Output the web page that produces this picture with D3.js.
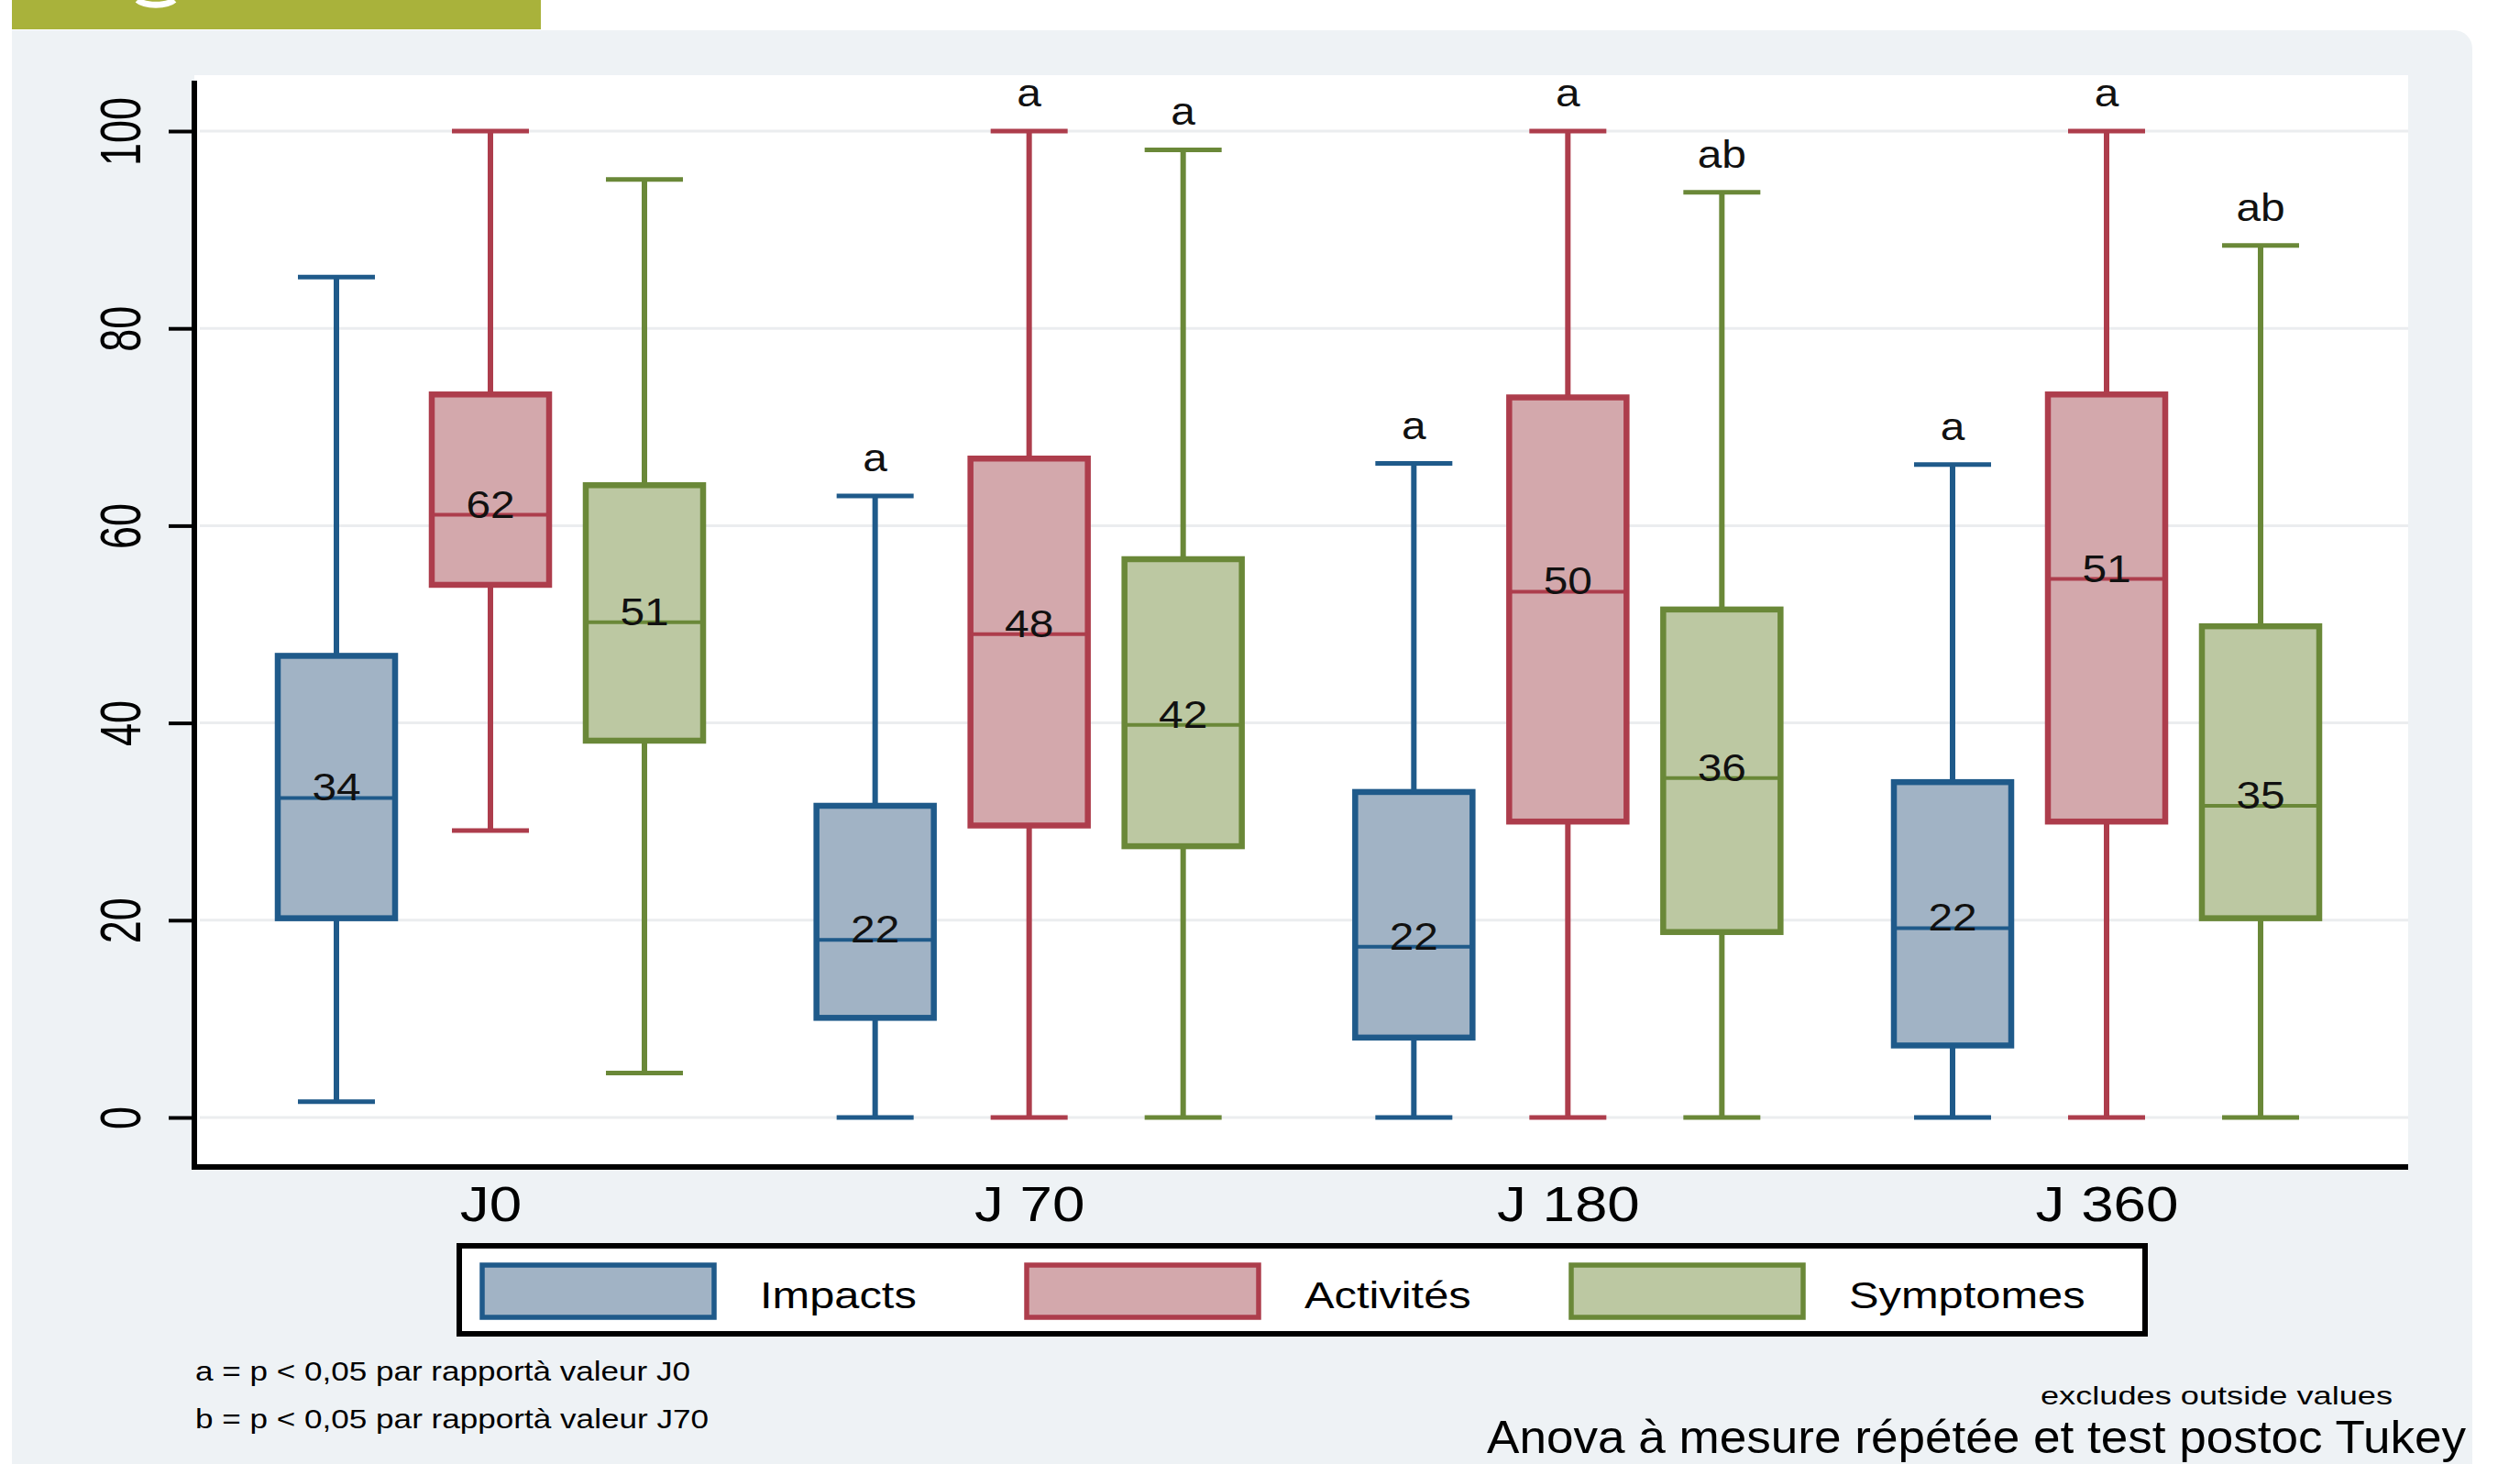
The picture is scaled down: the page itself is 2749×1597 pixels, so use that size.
<!DOCTYPE html>
<html><head><meta charset="utf-8">
<script src="https://cdn.jsdelivr.net/npm/d3@7"></script>
<style>html,body{margin:0;padding:0;background:#fff;overflow:hidden;} svg{display:block;}</style>
</head><body>
<svg id="chart" width="2749" height="1597"></svg>
<script>
// ---------------- DATA ----------------
const categories = ["J0", "J 70", "J 180", "J 360"];
const seriesNames = ["Impacts", "Activités", "Symptomes"];
const yTicks = [0, 20, 40, 60, 80, 100];

const impactsLow    = [1.6, 0, 0, 0];
const impactsQ1     = [20.2, 10.1, 8.1, 7.3];
const impactsMedian = [32.4, 18.0, 17.3, 19.2];
const impactsQ3     = [46.8, 31.6, 33.0, 34.0];
const impactsHigh   = [85.2, 63.0, 66.3, 66.2];
const impactsLabels = ["34", "22", "22", "22"];
const impactsSig    = ["", "a", "a", "a"];

const activitesLow    = [29.1, 0, 0, 0];
const activitesQ1     = [54.0, 29.6, 30.0, 30.0];
const activitesMedian = [61.1, 49.0, 53.3, 54.6];
const activitesQ3     = [73.3, 66.8, 73.0, 73.3];
const activitesHigh   = [100, 100, 100, 100];
const activitesLabels = ["62", "48", "50", "51"];
const activitesSig    = ["", "a", "a", "a"];

const symptomesLow    = [4.5, 0, 0, 0];
const symptomesQ1     = [38.2, 27.5, 18.8, 20.2];
const symptomesMedian = [50.2, 39.8, 34.4, 31.6];
const symptomesQ3     = [64.1, 56.6, 51.5, 49.8];
const symptomesHigh   = [95.1, 98.1, 93.8, 88.4];
const symptomesLabels = ["51", "42", "36", "35"];
const symptomesSig    = ["", "a", "ab", "ab"];

const footnoteA = "a = p < 0,05 par rapportà valeur J0";
const footnoteB = "b = p < 0,05 par rapportà valeur J70";
const noteOutside = "excludes outside values";
const noteTest = "Anova à mesure répétée et test postoc Tukey";

// ---------------- STYLE ----------------
const strokeColors = ["#1f5a8a", "#ad3d4c", "#6a8838"];
const fillColors   = ["#a1b3c5", "#d3a8ac", "#bcc8a2"];
const FONT = "'Liberation Sans', Arial, Helvetica, sans-serif";

const series = [
  {name: seriesNames[0], low: impactsLow, q1: impactsQ1, med: impactsMedian, q3: impactsQ3, high: impactsHigh, labels: impactsLabels, sig: impactsSig},
  {name: seriesNames[1], low: activitesLow, q1: activitesQ1, med: activitesMedian, q3: activitesQ3, high: activitesHigh, labels: activitesLabels, sig: activitesSig},
  {name: seriesNames[2], low: symptomesLow, q1: symptomesQ1, med: symptomesMedian, q3: symptomesQ3, high: symptomesHigh, labels: symptomesLabels, sig: symptomesSig}
];
const boxes = [];
series.forEach((s, si) => categories.forEach((c, ci) => boxes.push({
  cat: c, si, name: s.name, low: s.low[ci], q1: s.q1[ci], med: s.med[ci], q3: s.q3[ci], high: s.high[ci],
  label: s.labels[ci], sig: s.sig[ci]
})));

// ---------------- LAYOUT ----------------
const svg = d3.select("#chart");
const plot = {left: 212, right: 2627, top: 82, bottom: 1273};

const y = d3.scaleLinear().domain([0, 100]).range([1219, 143]);
const x = d3.scalePoint().domain(categories).range([plot.left + 323, plot.right - 329]);
const xo = d3.scalePoint().domain(seriesNames).range([-168, 168]);
const boxW = 128, capW = 84;

function stext(g, str, tx, ty, size, sx, anchor) {
  return g.append("text")
    .attr("transform", `translate(${tx},${ty}) scale(${sx},1)`)
    .attr("text-anchor", anchor || "start")
    .attr("font-family", FONT)
    .attr("font-size", size)
    .attr("fill", "#000")
    .text(str);
}

// page background
svg.append("rect").attr("x", 0).attr("y", 0).attr("width", 2749).attr("height", 1597).attr("fill", "#ffffff");
svg.append("rect").attr("x", 13).attr("y", 33).attr("width", 2684).attr("height", 1620).attr("rx", 20).attr("fill", "#eef2f5");
svg.append("rect").attr("x", 13).attr("y", 33).attr("width", 200).attr("height", 200).attr("fill", "#eef2f5");
// header band
svg.append("rect").attr("x", 13).attr("y", 0).attr("width", 577).attr("height", 32).attr("fill", "#a9b23b");
svg.append("path").attr("d", "M150,0 A22,9 0 0 0 190,0").attr("fill", "none").attr("stroke", "#fff").attr("stroke-width", 7);

// plot region
svg.append("rect").attr("x", plot.left).attr("y", plot.top).attr("width", plot.right - plot.left).attr("height", plot.bottom - plot.top).attr("fill", "#ffffff");

// gridlines
svg.append("g").selectAll("line").data(yTicks).join("line")
  .attr("x1", plot.left + 6).attr("x2", plot.right)
  .attr("y1", d => y(d)).attr("y2", d => y(d))
  .attr("stroke", "#ebedef").attr("stroke-width", 3);

// y axis
const yAxisG = svg.append("g").attr("transform", `translate(${plot.left},0)`)
  .call(d3.axisLeft(y).tickValues(yTicks).tickSize(28).tickFormat(d3.format("d")));
yAxisG.select(".domain").remove();
yAxisG.selectAll(".tick line").attr("stroke", "#000").attr("stroke-width", 4);
yAxisG.selectAll(".tick text")
  .attr("x", null).attr("dy", null)
  .attr("transform", "translate(-59,0) scale(1.4,1) rotate(-90)")
  .attr("text-anchor", "middle")
  .attr("font-family", FONT).attr("font-size", 45).attr("fill", "#000");
svg.append("line").attr("x1", plot.left).attr("x2", plot.left).attr("y1", 88).attr("y2", plot.bottom + 3)
  .attr("stroke", "#000").attr("stroke-width", 6);

// x axis
const xAxisG = svg.append("g").attr("transform", `translate(0,${plot.bottom})`)
  .call(d3.axisBottom(x).tickSize(0).tickPadding(0));
xAxisG.select(".domain").remove();
xAxisG.selectAll(".tick text")
  .attr("y", null).attr("dy", null)
  .attr("transform", "translate(0,59) scale(1.18,1)")
  .attr("text-anchor", "middle")
  .attr("font-family", FONT).attr("font-size", 54).attr("fill", "#000");
svg.append("line").attr("x1", plot.left - 3).attr("x2", plot.right).attr("y1", plot.bottom).attr("y2", plot.bottom)
  .attr("stroke", "#000").attr("stroke-width", 6);

// boxes
const bg = svg.append("g");
const cxOf = d => x(d.cat) + xo(d.name);
const grp = bg.selectAll("g.box").data(boxes).join("g").attr("class", "box");
// whiskers
grp.append("line").attr("x1", cxOf).attr("x2", cxOf).attr("y1", d => y(d.q3)).attr("y2", d => y(d.high))
  .attr("stroke", d => strokeColors[d.si]).attr("stroke-width", 6);
grp.append("line").attr("x1", cxOf).attr("x2", cxOf).attr("y1", d => y(d.q1)).attr("y2", d => y(d.low))
  .attr("stroke", d => strokeColors[d.si]).attr("stroke-width", 6);
grp.append("line").attr("x1", d => cxOf(d) - capW / 2).attr("x2", d => cxOf(d) + capW / 2)
  .attr("y1", d => y(d.high)).attr("y2", d => y(d.high))
  .attr("stroke", d => strokeColors[d.si]).attr("stroke-width", 5);
grp.append("line").attr("x1", d => cxOf(d) - capW / 2).attr("x2", d => cxOf(d) + capW / 2)
  .attr("y1", d => y(d.low)).attr("y2", d => y(d.low))
  .attr("stroke", d => strokeColors[d.si]).attr("stroke-width", 5);
// box
grp.append("rect").attr("x", d => cxOf(d) - boxW / 2).attr("y", d => y(d.q3))
  .attr("width", boxW).attr("height", d => y(d.q1) - y(d.q3))
  .attr("fill", d => fillColors[d.si]).attr("stroke", d => strokeColors[d.si]).attr("stroke-width", 6.5);
// median
grp.append("line").attr("x1", d => cxOf(d) - boxW / 2).attr("x2", d => cxOf(d) + boxW / 2)
  .attr("y1", d => y(d.med)).attr("y2", d => y(d.med))
  .attr("stroke", d => strokeColors[d.si]).attr("stroke-width", 4);
// value labels
grp.append("text")
  .attr("transform", d => `translate(${cxOf(d)},${y(d.med) + 3}) scale(1.14,1)`)
  .attr("text-anchor", "middle").attr("font-family", FONT).attr("font-size", 42).attr("fill", "#111")
  .text(d => d.label);
// significance letters
grp.filter(d => d.sig).append("text")
  .attr("transform", d => `translate(${cxOf(d)},${y(d.high) - 27}) scale(1.14,1)`)
  .attr("text-anchor", "middle").attr("font-family", FONT).attr("font-size", 42).attr("fill", "#111")
  .text(d => d.sig);

// legend
const lg = svg.append("g");
lg.append("rect").attr("x", 501).attr("y", 1359).attr("width", 1839).attr("height", 96)
  .attr("fill", "#fff").attr("stroke", "#000").attr("stroke-width", 6);
seriesNames.forEach((n, i) => {
  const lx = 526 + i * 594;
  lg.append("rect").attr("x", lx).attr("y", 1380).attr("width", 253).attr("height", 57)
    .attr("fill", fillColors[i]).attr("stroke", strokeColors[i]).attr("stroke-width", 5.5);
  stext(lg, n, lx + 303, 1427, 40, 1.22, "start");
});

// notes
svg.append("text").attr("x", 213).attr("y", 1506).attr("font-family", FONT).attr("font-size", 30)
  .attr("textLength", 540).attr("lengthAdjust", "spacingAndGlyphs").attr("fill", "#000").text(footnoteA);
svg.append("text").attr("x", 213).attr("y", 1558).attr("font-family", FONT).attr("font-size", 30)
  .attr("textLength", 560).attr("lengthAdjust", "spacingAndGlyphs").attr("fill", "#000").text(footnoteB);
svg.append("text").attr("x", 2226).attr("y", 1532).attr("font-family", FONT).attr("font-size", 28)
  .attr("textLength", 384).attr("lengthAdjust", "spacingAndGlyphs").attr("fill", "#000").text(noteOutside);
svg.append("text").attr("x", 1622).attr("y", 1585).attr("font-family", FONT).attr("font-size", 50)
  .attr("textLength", 1068).attr("lengthAdjust", "spacingAndGlyphs").attr("fill", "#000").text(noteTest);
</script>
</body></html>
